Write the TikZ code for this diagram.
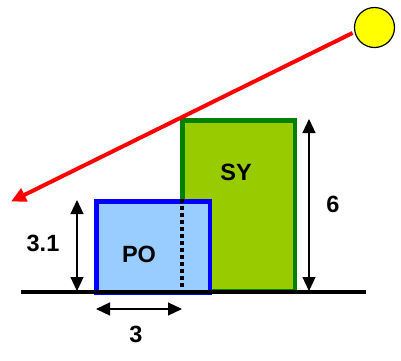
\documentclass[tikz,border=0pt]{standalone}
\usepackage{fontspec}
\setmainfont{Liberation Sans}
\usetikzlibrary{arrows.meta, positioning}
\definecolor{pofill}{HTML}{99CCFF}
\definecolor{poline}{HTML}{0000FF}
\definecolor{syfill}{HTML}{99CC00}
\definecolor{syline}{HTML}{008000}
\definecolor{rayred}{HTML}{FF0000}
\definecolor{sunyellow}{HTML}{FFFF00}

\begin{document}
\begin{tikzpicture}[x=1pt, y=-1pt,
  block/.style={draw, line width=4.5pt, inner sep=0pt, anchor=south west},
  poblock/.style={block, fill=pofill, draw=poline, minimum width=113.5pt, minimum height=91.5pt},
  syblock/.style={block, fill=syfill, draw=syline, minimum width=112.5pt, minimum height=170.5pt},
  lbl/.style={font=\fontsize{23.5}{26}\selectfont\bfseries, inner sep=0pt},
  dim/.style={line width=1.2pt, {Triangle[length=14pt, width=13pt]}-{Triangle[length=14pt, width=13pt]}},
]
  \useasboundingbox (0,0) rectangle (401,360);

  % Buildings
  \node[syblock] (sy) at (180,293) {};
  \node[poblock] (po) at (94,295) {};
  \draw[line width=4pt, dash pattern=on 3.5pt off 3.5pt] ([xshift=1.7pt]sy.west |- po.north) -- ([xshift=1.7pt]sy.west |- 0,290) coordinate (dotend);
  \node[lbl] (polbl) at (139,254) {PO};
  \node[lbl] (sylbl) at (236,172) {SY};

  % Ground
  \coordinate (gl) at (21,292);
  \coordinate (gr) at (366,292);
  \draw[line width=4pt] (gl) -- (gr);

  % Sun and ray
  \node[circle, draw, fill=sunyellow, line width=1.2pt, minimum size=40pt, inner sep=0pt] (sun) at (374.5,27.5) {};
  \coordinate (raystart) at (352.5,33);
  \coordinate (raytip) at (11,201.5);
  \draw[rayred, line width=4pt, -{Triangle[length=15pt, width=14pt]}] (raystart) -- (raytip);

  % Dimensions
  \coordinate (hTop) at (77,200);
  \coordinate (hBot) at (77,291);
  \draw[dim] (hBot) -- (hTop);
  \node[lbl] (hlbl) at (43,243) {3.1};

  \coordinate (wL) at (96,309);
  \coordinate (wR) at (182,309);
  \draw[dim] (wL) -- (wR);
  \node[lbl] (wlbl) at (136,334) {3};

  \coordinate (sTop) at (309,119);
  \coordinate (sBot) at (309,291);
  \draw[dim] (sBot) -- (sTop);
  \node[lbl] (slbl) at (333,204) {6};
\end{tikzpicture}
\end{document}
